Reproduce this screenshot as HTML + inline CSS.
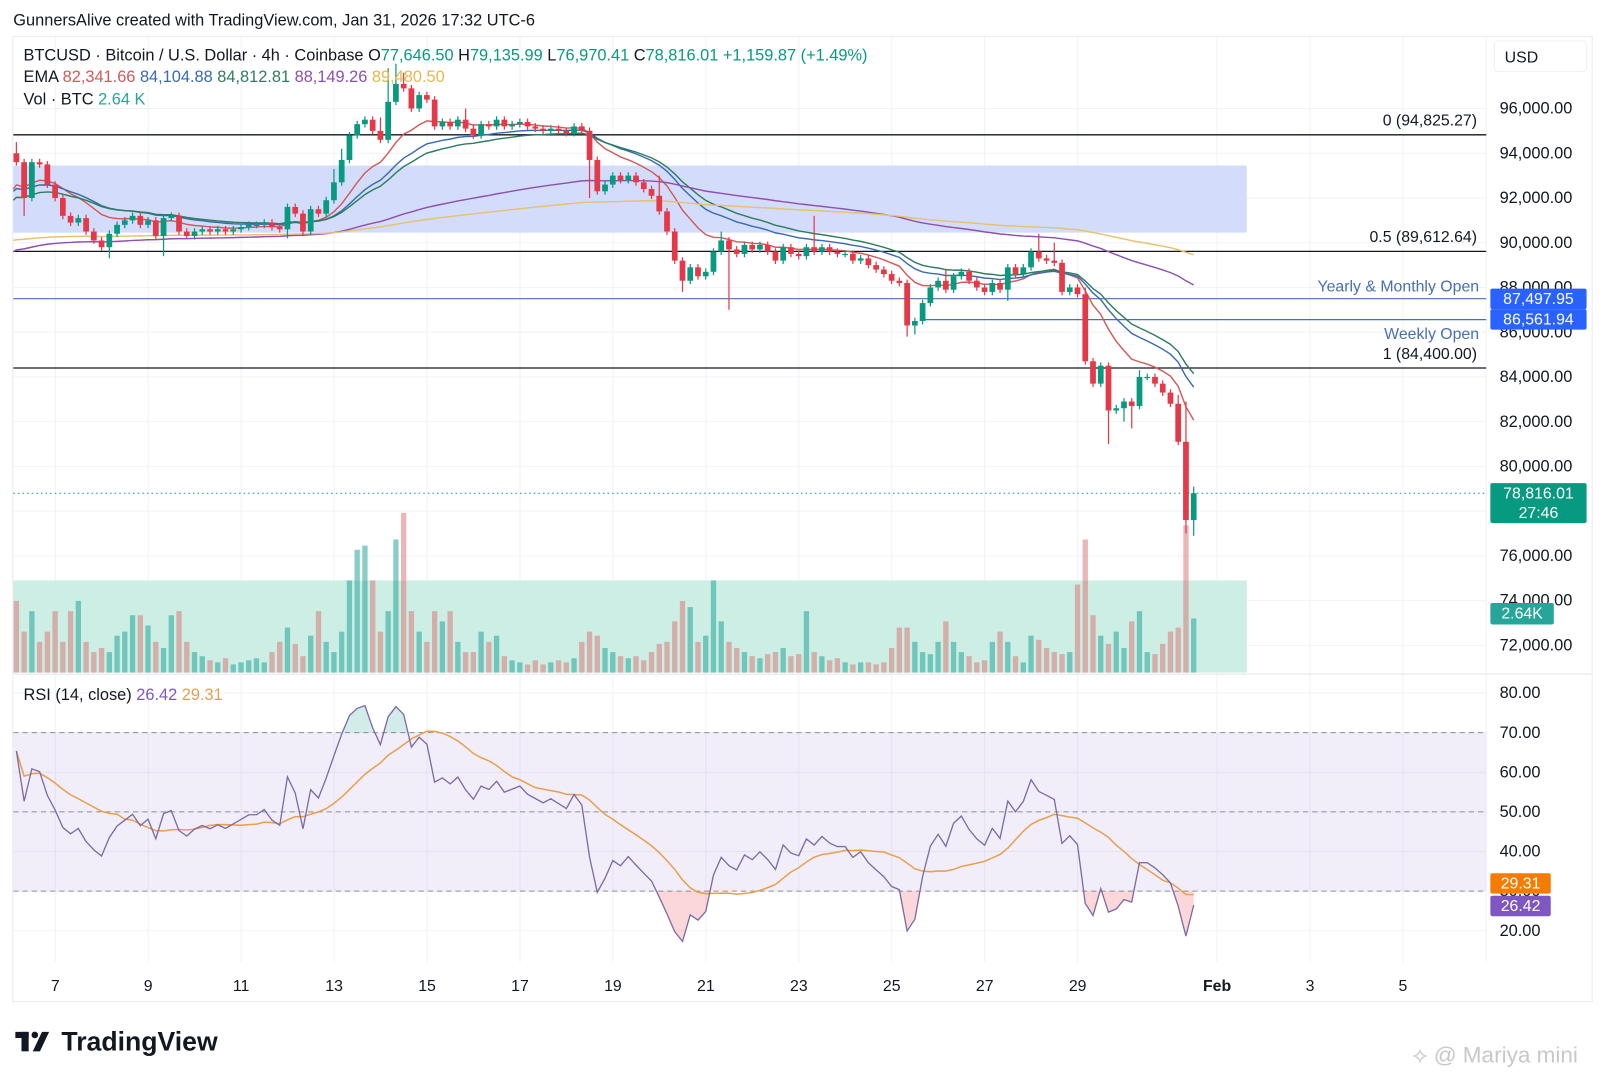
<!DOCTYPE html>
<html><head><meta charset="utf-8">
<style>
html,body{margin:0;padding:0;background:#fff;width:1605px;height:1080px;overflow:hidden}
svg{display:block;font-family:"Liberation Sans",sans-serif}
</style></head>
<body>
<svg id="chart" width="1605" height="1080" viewBox="0 0 1568 1055" preserveAspectRatio="none" xmlns="http://www.w3.org/2000/svg">
<rect x="0" y="0" width="1568" height="1055" fill="#fff"/>
<text x="13" y="25" font-size="16" fill="#131722">GunnersAlive created with TradingView.com, Jan 31, 2026 17:32 UTC-6</text>
<rect x="12.5" y="35.5" width="1543" height="943" fill="none" stroke="#e8eaef"/>
<g id="grid"></g>
<g id="zones"></g>
<g id="levels"></g>
<g id="volume"></g>
<g id="emas"></g>
<g id="candles"></g>
<g id="rsi"></g>
<g id="axes"></g>
<g id="legend" font-size="16">
<text x="23" y="59" fill="#131722">BTCUSD · Bitcoin / U.S. Dollar · 4h · Coinbase  <tspan>O</tspan><tspan fill="#089981">77,646.50</tspan>  <tspan>H</tspan><tspan fill="#089981">79,135.99</tspan>  <tspan>L</tspan><tspan fill="#089981">76,970.41</tspan>  <tspan>C</tspan><tspan fill="#089981">78,816.01</tspan>  <tspan fill="#089981">+1,159.87 (+1.49%)</tspan></text>
<text x="23" y="80" fill="#131722">EMA  <tspan fill="#d05a5a">82,341.66</tspan>  <tspan fill="#3a6ab0">84,104.88</tspan>  <tspan fill="#2e7d5e">84,812.81</tspan>  <tspan fill="#8e4fb0">88,149.26</tspan>  <tspan fill="#e8b84a">89,480.50</tspan></text>
<text x="23" y="102" fill="#131722">Vol · BTC  <tspan fill="#26a69a">2.64 K</tspan></text>
<text x="23" y="684" fill="#131722">RSI (14, close)  <tspan fill="#7e57c2">26.42</tspan>  <tspan fill="#e0a050">29.31</tspan></text>
</g>
<g>
<rect x="15" y="1008" width="13" height="6" fill="#131722"/><rect x="21" y="1008" width="7" height="19" fill="#131722"/>
<circle cx="34" cy="1011" r="3.2" fill="#131722"/><polygon points="41,1008 48,1008 39,1027 32,1027" fill="#131722"/>
<text x="60" y="1026" font-size="26" font-weight="bold" fill="#131722">TradingView</text>
</g>
<text x="1380" y="1038" font-size="22" fill="#c8c8c8">⟡ @ Mariya mini</text>
</svg>
<script>
// ===== data =====
const closes = [
93.6,92.0,93.6,93.5,92.6,
92.0,91.2,90.9,91.1,90.5,90.1,
89.8,90.4,90.8,91.0,91.2,90.8,
91.0,90.3,91.1,91.2,90.5,90.3,
90.5,90.6,90.5,90.6,90.5,90.6,
90.7,90.8,90.8,90.9,90.7,90.6,
91.6,91.3,90.5,91.5,91.3,91.9,
92.7,93.7,94.8,95.3,95.5,95.0,
94.6,96.3,97.1,96.9,96.0,96.6,
96.4,95.2,95.4,95.2,95.5,95.1,
94.8,95.3,95.2,95.5,95.2,95.3,
95.4,95.2,95.1,95.0,95.1,95.0,
94.9,95.2,95.0,93.7,92.3,92.6,
93.0,92.8,93.0,92.7,92.4,92.1,
91.4,90.5,89.2,88.3,88.9,88.5,
88.7,89.6,90.1,89.7,89.5,89.9,
89.7,89.9,89.6,89.2,89.8,89.5,
89.4,89.8,89.6,89.8,89.6,89.5,
89.5,89.2,89.3,89.0,88.8,88.6,
88.3,88.2,86.3,86.5,87.3,88.0,
88.3,87.9,88.5,88.7,88.3,88.0,
87.8,88.2,87.9,88.9,88.6,88.9,
89.6,89.3,89.2,89.1,87.8,88.0,
87.7,84.7,83.7,84.5,82.5,82.6,
82.9,82.7,84.0,84.0,83.7,83.3,
82.8,81.1,77.6,78.8];
const firstOpen = 94.0;
const wickHighs = {0:94.5,41:93.3,42:94.2,47:95.6,48:97.8,49:98.0,50:97.6,58:96.0,83:93.0,91:90.5,103:91.2,120:88.8,132:90.4,134:90.0,138:88.0,145:84.3,150:83.2,151:82.9,152:79.1};
const wickLows = {1:91.2,12:89.3,19:89.4,35:90.2,74:92.0,86:87.8,92:87.0,115:85.8,116:85.9,128:87.4,141:81.0,143:82.0,144:81.7,151:77.0,152:76.9};
const volumes = [
3.5,2.0,3.0,1.5,2.0,
3.0,1.5,3.0,3.5,1.5,1.0,
1.2,1.0,1.8,2.0,2.8,2.8,
2.3,1.5,1.2,2.8,3.0,1.5,
1.0,0.8,0.6,0.5,0.7,0.4,
0.5,0.6,0.7,0.5,1.0,1.5,
2.2,1.4,0.8,1.8,3.0,1.5,
1.0,2.0,4.5,6.0,6.2,4.5,
2.0,3.0,6.5,7.8,3.0,2.0,
1.5,3.0,2.5,3.0,1.5,1.0,
1.0,2.0,1.5,1.8,0.8,0.6,
0.5,0.4,0.6,0.4,0.5,0.6,
0.5,0.7,1.5,2.0,1.8,1.2,
1.0,0.8,0.7,0.8,0.6,1.0,
1.4,1.5,2.5,3.5,3.2,1.5,
1.8,4.5,2.5,1.5,1.2,1.0,
0.8,0.7,0.9,1.0,1.2,0.8,
0.9,3.0,1.0,0.8,0.6,0.7,
0.5,0.4,0.5,0.5,0.4,0.5,
1.2,2.2,2.2,1.5,1.0,0.9,
1.5,2.5,1.5,1.0,0.8,0.5,
0.6,1.5,2.0,1.5,0.8,0.5,
1.8,1.6,1.2,1.0,0.9,1.0,
4.3,6.5,2.8,1.8,1.4,2.0,
1.2,2.5,3.0,1.0,0.9,1.4,
2.0,2.2,7.2,2.64];
const emaPeriods = [12,21,26,100,200];
const emaSeeds = [92.4,92.3,91.9,89.6,90.1];
const emaColors = ['#d05a5a','#3a6ab0','#2e7d5e','#8e4fb0','#e8c070'];
const rsiSeedGain = 0.36, rsiSeedLoss = 0.16;
const priceTicks = [96,94,92,90,88,86,84,82,80,78,76,74,72];
const rsiTicks = [80,70,60,50,40,30,20];
const dayLabels = ['7','9','11','13','15','17','19','21','23','25','27','29','Feb','3','5'];
const dayValues = [7,9,11,13,15,17,19,21,23,25,27,29,32,34,36];
const fibLevels = [94.82527,89.61264,84.4];
const fibLabels = ['0 (94,825.27)','0.5 (89,612.64)','1 (84,400.00)'];
const openLevels = [87.49795,86.56194];
const zoneTop = 93.45, zoneBottom = 90.45;

// ===== scales =====
const NS='http://www.w3.org/2000/svg';
const PLOT_R=1452;
function xIdx(i){return 16+i*7.567;}
function xDay(d){return 54+(d-7)*45.4;}
function yP(p){return 106+(96-p)/2*43.7;}
function yR(v){return 677+(80-v)*3.87;}
function yV(v){return 657-v*20;}
function mk(parent,tag,attrs){const e=document.createElementNS(NS,tag);for(const k in attrs)e.setAttribute(k,attrs[k]);parent.appendChild(e);return e;}
const G=id=>document.getElementById(id);

// grid
const grid=G('grid');
dayValues.forEach((d,i)=>{const l=mk(grid,'line',{x1:xDay(d),x2:xDay(d),y1:36,y2:940,stroke:'#f0f2f6','stroke-width':1});

});
priceTicks.forEach(p=>{const l=mk(grid,'line',{x1:13,x2:PLOT_R,y1:yP(p),y2:yP(p),stroke:'#f0f2f6'});

});
rsiTicks.forEach(v=>{const l=mk(grid,'line',{x1:13,x2:PLOT_R,y1:yR(v),y2:yR(v),stroke:'#f0f2f6'});

});
mk(grid,'line',{x1:13,x2:1555,y1:658.5,y2:658.5,stroke:'#e0e3eb'});
mk(grid,'line',{x1:PLOT_R,x2:PLOT_R,y1:36,y2:940,stroke:'#f0f2f6'});

// zones
const zones=G('zones');
const bz=mk(zones,'rect',{x:13,y:yP(zoneTop),width:1205,height:yP(zoneBottom)-yP(zoneTop),fill:'#d3ddfb'});


const vz=mk(zones,'rect',{x:13,y:567,width:1205,height:90,fill:'#cdeee5'});



// levels
const lev=G('levels');
fibLevels.forEach((p,i)=>{const l=mk(lev,'line',{x1:13,x2:PLOT_R,y1:yP(p),y2:yP(p),stroke:'#131722','stroke-width':1.3});


const t=mk(lev,'text',{x:1443,y:yP(p)-9,'text-anchor':'end','font-size':15.5,fill:'#131722'});t.textContent=fibLabels[i];

});
const yl=mk(lev,'line',{x1:13,x2:PLOT_R,y1:yP(openLevels[0]),y2:yP(openLevels[0]),stroke:'#4a6fb0','stroke-width':1.2});


const wl=mk(lev,'line',{x1:900,x2:PLOT_R,y1:yP(openLevels[1]),y2:yP(openLevels[1]),stroke:'#4a6fb0','stroke-width':1.2});


let t1=mk(lev,'text',{x:1445,y:yP(openLevels[0])-7,'text-anchor':'end','font-size':15.5,fill:'#4a6fb0'});t1.textContent='Yearly & Monthly Open';


let t2=mk(lev,'text',{x:1445,y:yP(openLevels[1])+19,'text-anchor':'end','font-size':15.5,fill:'#4a6fb0'});t2.textContent='Weekly Open';


const last=closes[closes.length-1];
const cl=mk(lev,'line',{x1:13,x2:PLOT_R,y1:yP(last),y2:yP(last),stroke:'#089981','stroke-dasharray':'1.5 3'});



// volume
const vg=G('volume');
volumes.forEach((v,i)=>{const o=i?closes[i-1]:firstOpen;const up=closes[i]>=o;
const r=mk(vg,'rect',{x:xIdx(i)-2.6,y:yV(v),width:5.2,height:657-yV(v),fill:up?'rgba(38,166,154,0.55)':'rgba(220,110,110,0.5)'});

});

// emas
const eg=G('emas');
emaPeriods.forEach((n,k)=>{const a=2/(n+1);let e=emaSeeds[k];let d='M13,'+yP(e);
closes.forEach((c,i)=>{e=e+a*(c-e);d+=' L'+xIdx(i).toFixed(1)+','+yP(e).toFixed(1);});
const p=mk(eg,'path',{d:d,fill:'none',stroke:emaColors[k],'stroke-width':1.4});

});

// candles
const cg=G('candles');
closes.forEach((c,i)=>{const o=i?closes[i-1]:firstOpen;const up=c>=o;const col=up?'#089981':'#e5394a';
const hi=wickHighs[i]!==undefined?wickHighs[i]:Math.max(o,c)+0.15;
const lo=wickLows[i]!==undefined?wickLows[i]:Math.min(o,c)-0.15;
const x=xIdx(i);
const w=mk(cg,'line',{x1:x,x2:x,y1:yP(hi),y2:yP(lo),stroke:col,'stroke-width':1.2});


const top=yP(Math.max(o,c)),bot=yP(Math.min(o,c));
const b=mk(cg,'rect',{x:x-2.8,y:top,width:5.6,height:Math.max(1.2,bot-top),fill:col});

});

// rsi
const rg=G('rsi');
const band=mk(rg,'rect',{x:13,y:yR(70),width:PLOT_R-13,height:yR(30)-yR(70),fill:'rgba(126,87,194,0.1)'});


[70,50,30].forEach(v=>{const l=mk(rg,'line',{x1:13,x2:PLOT_R,y1:yR(v),y2:yR(v),stroke:'#8a8f9c','stroke-dasharray':'5 4'});

});
let ag=rsiSeedGain,al=rsiSeedLoss;const rsi=[];
closes.forEach((c,i)=>{const prev=i?closes[i-1]:firstOpen;const ch=c-prev;
ag=(ag*13+Math.max(ch,0))/14;al=(al*13+Math.max(-ch,0))/14;rsi.push(100-100/(1+ag/al));});
const ma=rsi.map((v,i)=>{const s=rsi.slice(Math.max(0,i-13),i+1);return s.reduce((a,b)=>a+b,0)/s.length;});
let rd='',md='';
rsi.forEach((v,i)=>{rd+=(i?' L':'M')+xIdx(i).toFixed(1)+','+yR(v).toFixed(1);md+=(i?' L':'M')+xIdx(i).toFixed(1)+','+yR(ma[i]).toFixed(1);});
const defs=mk(rg,'defs',{});
const c1=mk(defs,'clipPath',{id:'ob'});mk(c1,'rect',{x:0,y:0,width:1568,height:yR(70)});
const c2=mk(defs,'clipPath',{id:'os'});mk(c2,'rect',{x:0,y:yR(30),width:1568,height:300});
const x0=xIdx(0).toFixed(1),xn=xIdx(rsi.length-1).toFixed(1);
const fo=mk(rg,'path',{d:rd+' L'+xn+','+yR(70)+' L'+x0+','+yR(70)+' Z',fill:'rgba(8,153,129,0.18)','clip-path':'url(#ob)'});


const fu=mk(rg,'path',{d:rd+' L'+xn+','+yR(30)+' L'+x0+','+yR(30)+' Z',fill:'rgba(242,54,69,0.2)','clip-path':'url(#os)'});


const mp=mk(rg,'path',{d:md,fill:'none',stroke:'#e8a050','stroke-width':1.5});


const rp=mk(rg,'path',{d:rd,fill:'none',stroke:'#7e6aa8','stroke-width':1.3});



// axes
const ax=G('axes');
const usd=mk(ax,'rect',{x:1460,y:40,width:90,height:30,rx:4,fill:'#fff',stroke:'#eef0f3'});


let ut=mk(ax,'text',{x:1470,y:61,'font-size':15.5,fill:'#131722'});ut.textContent='USD';
priceTicks.forEach(p=>{const t=mk(ax,'text',{x:1465,y:yP(p)+5,'font-size':16,fill:'#131722'});t.textContent=p.toFixed(0)+',000.00';

});
rsiTicks.forEach(v=>{const t=mk(ax,'text',{x:1465,y:yR(v)+5,'font-size':16,fill:'#131722'});t.textContent=v.toFixed(2);

});
dayValues.forEach((d,i)=>{const t=mk(ax,'text',{x:xDay(d),y:968,'text-anchor':'middle','font-size':15.5,fill:'#131722','font-weight':dayLabels[i]==='Feb'?'bold':'normal'});t.textContent=dayLabels[i];

});
function badge(name,x,y,w,h,fill,lines){const g=mk(ax,'g',{});


mk(g,'rect',{x:x,y:y,width:w,height:h,rx:2,fill:fill});
lines.forEach((s,k)=>{const t=mk(g,'text',{x:x+w/2,y:y+15+k*19,'text-anchor':'middle','font-size':15.5,fill:'#fff'});t.textContent=s;});}
badge('yearly-open-badge',1456,282,94,20,'#2962ff',['87,497.95']);
badge('weekly-open-badge',1456,302,94,20,'#2962ff',['86,561.94']);
badge('last-price-badge',1456,472,94,39,'#089981',['78,816.01','27:46']);
badge('volume-badge',1456,589,62,21,'#26a69a',['2.64K']);
badge('rsi-ma-badge',1456,853,59,20,'#f57c00',['29.31']);
badge('rsi-badge',1456,875,59,20,'#7e57c2',['26.42']);
</script>
</body></html>
